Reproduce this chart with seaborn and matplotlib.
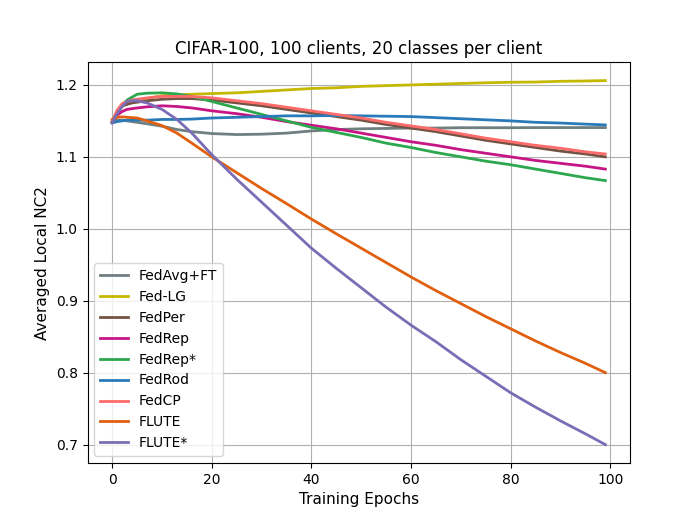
import matplotlib
matplotlib.use("Agg")
import matplotlib.pyplot as plt
import seaborn as sns

epochs = [0, 1, 2, 3, 4, 5, 7, 10, 13, 16, 20, 25, 30, 35, 40, 45, 50,
          55, 60, 65, 70, 75, 80, 85, 90, 95, 99]

fedavg_ft = [1.149, 1.151, 1.151, 1.150, 1.149, 1.148, 1.146, 1.1426, 1.138, 1.135,
             1.1324, 1.131, 1.1315, 1.133, 1.136, 1.138, 1.139, 1.1395, 1.140, 1.140,
             1.1405, 1.1405, 1.1405, 1.1407, 1.1407, 1.1407, 1.1407]
fed_lg = [1.149, 1.162, 1.170, 1.174, 1.176, 1.178, 1.181, 1.185, 1.186, 1.187,
          1.188, 1.189, 1.191, 1.193, 1.195, 1.196, 1.198, 1.199, 1.200, 1.201,
          1.202, 1.203, 1.2037, 1.204, 1.205, 1.2055, 1.206]
fedper = [1.148, 1.164, 1.171, 1.173, 1.175, 1.176, 1.178, 1.180, 1.181, 1.181,
          1.179, 1.175, 1.171, 1.166, 1.161, 1.156, 1.151, 1.145, 1.140, 1.135,
          1.129, 1.123, 1.118, 1.113, 1.108, 1.104, 1.100]
fedrep = [1.148, 1.158, 1.163, 1.166, 1.167, 1.168, 1.1695, 1.171, 1.170, 1.168,
          1.164, 1.160, 1.155, 1.149, 1.144, 1.139, 1.133, 1.127, 1.121, 1.116,
          1.110, 1.105, 1.100, 1.095, 1.091, 1.087, 1.083]
fedrep_star = [1.148, 1.162, 1.172, 1.179, 1.183, 1.187, 1.1885, 1.189, 1.1875, 1.184,
               1.177, 1.168, 1.159, 1.150, 1.141, 1.134, 1.127, 1.119, 1.113, 1.106,
               1.100, 1.094, 1.089, 1.083, 1.077, 1.071, 1.067]
fedrod = [1.147, 1.149, 1.150, 1.151, 1.151, 1.151, 1.151, 1.152, 1.152, 1.1525,
          1.154, 1.155, 1.156, 1.157, 1.157, 1.1575, 1.157, 1.1565, 1.156, 1.1545,
          1.153, 1.1515, 1.150, 1.148, 1.147, 1.1455, 1.1444]
fedcp = [1.148, 1.165, 1.174, 1.177, 1.179, 1.180, 1.182, 1.184, 1.184, 1.184,
         1.182, 1.178, 1.174, 1.169, 1.164, 1.159, 1.154, 1.148, 1.143, 1.138,
         1.132, 1.126, 1.121, 1.116, 1.112, 1.107, 1.104]
flute = [1.152, 1.155, 1.1556, 1.155, 1.1545, 1.154, 1.150, 1.1435, 1.133, 1.119,
         1.100, 1.078, 1.056, 1.035, 1.0135, 0.993, 0.973, 0.953, 0.933, 0.914,
         0.896, 0.878, 0.861, 0.844, 0.828, 0.813, 0.800]
flute_star = [1.148, 1.160, 1.170, 1.177, 1.178, 1.178, 1.175, 1.166, 1.152, 1.133,
              1.103, 1.069, 1.037, 1.005, 0.973, 0.945, 0.918, 0.891, 0.866, 0.843,
              0.818, 0.795, 0.772, 0.752, 0.733, 0.715, 0.700]

methods = ["FedAvg+FT", "Fed-LG", "FedPer", "FedRep", "FedRep*",
           "FedRod", "FedCP", "FLUTE", "FLUTE*"]
series = [fedavg_ft, fed_lg, fedper, fedrep, fedrep_star,
          fedrod, fedcp, flute, flute_star]
colors = ["#6f7f80", "#c4b800", "#735343", "#c71585", "#2ca74d",
          "#2a7ab9", "#ff6b6b", "#e0600f", "#7a6db5"]

fig, ax = plt.subplots(figsize=(7, 5.2), dpi=100)

for name, vals, c in zip(methods, series, colors):
    sns.lineplot(x=epochs, y=vals, color=c, label=name, linewidth=2, ax=ax)

ax.grid(True)
ax.set_title("CIFAR-100, 100 clients, 20 classes per client")
ax.set_xlabel("Training Epochs", fontsize=11)
ax.set_ylabel("Averaged Local NC2", fontsize=11)
ax.legend(loc="lower left")

plt.savefig("out.png", dpi=100)
